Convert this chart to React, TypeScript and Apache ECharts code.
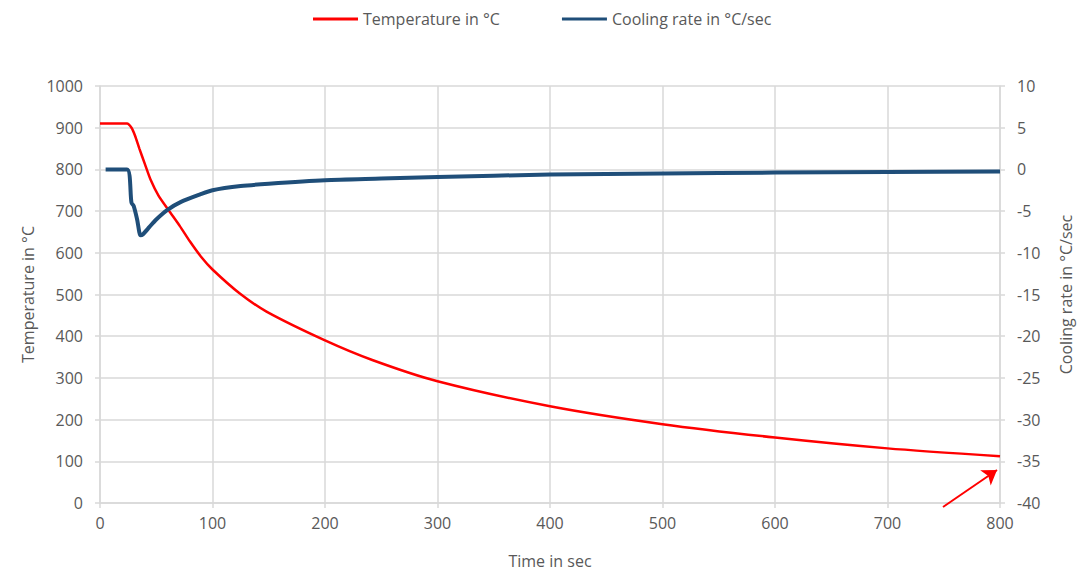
import React, { useEffect, useRef } from "react";
import * as echarts from "echarts";

const tempTimes = [0, 24, 28, 31, 35, 40, 45, 52, 61, 71, 80, 90, 100, 124, 148, 200, 242, 300, 400, 500, 600, 700, 800];
const tempValues = [910, 910, 900, 882, 850, 812, 775, 737, 702, 664, 627, 590, 560, 503, 459, 390, 343, 292, 232, 189, 157, 131, 112];

const rateTimes = [5, 24, 28, 30, 33, 36, 38, 44, 50, 60, 72, 89, 100, 125, 150, 200, 250, 300, 400, 500, 600, 700, 800];
const rateValues = [0, 0, -4.0, -4.4, -6.0, -7.9, -7.8, -6.9, -6.0, -4.85, -3.9, -3.0, -2.5, -2.0, -1.72, -1.3, -1.1, -0.9, -0.62, -0.48, -0.38, -0.3, -0.25];

const seriesNames = ["Temperature in °C", "Cooling rate in °C/sec"];
const axisNames = { x: "Time in sec", left: "Temperature in °C", right: "Cooling rate in °C/sec" };

const FONT = "'Open Sans', sans-serif";
const GRAY = "#595959";
const LINE = "#d9d9d9";

export default function App() {
  const ref = useRef<HTMLDivElement>(null);
  useEffect(() => {
    if (!ref.current) return;
    const chart = echarts.init(ref.current, null, { renderer: "svg" });
    const textStyle = { color: GRAY, fontSize: 16, fontFamily: FONT };
    const plain = (v: number) => String(v);
    chart.setOption({
      animation: false,
      backgroundColor: "#ffffff",
      textStyle: { fontFamily: FONT },
      legend: {
        left: 308,
        top: 6,
        itemWidth: 45,
        itemHeight: 3,
        itemGap: 62,
        icon: "rect",
        textStyle: { color: GRAY, fontSize: 16, fontFamily: FONT },
        data: seriesNames,
      },
      grid: { left: 100, right: 77, top: 86, bottom: 70, outerBoundsMode: "none" },
      xAxis: {
        type: "value",
        min: 0,
        max: 800,
        interval: 100,
        name: axisNames.x,
        nameLocation: "middle",
        nameGap: 50,
        nameTextStyle: textStyle,
        axisLine: { show: true, lineStyle: { color: LINE, width: 1.5 } },
        axisTick: { show: true, length: 5, lineStyle: { color: LINE, width: 1.5 } },
        axisLabel: { ...textStyle, margin: 12, formatter: plain },
        splitLine: { show: true, lineStyle: { color: LINE, width: 1.5 } },
      },
      yAxis: [
        {
          type: "value",
          min: 0,
          max: 1000,
          interval: 100,
          name: axisNames.left,
          nameLocation: "middle",
          nameGap: 64,
          nameTextStyle: textStyle,
          axisLine: { show: true, lineStyle: { color: LINE, width: 1.5 } },
          axisTick: { show: true, length: 5, lineStyle: { color: LINE, width: 1.5 } },
          axisLabel: { ...textStyle, margin: 17, formatter: plain },
          splitLine: { show: true, lineStyle: { color: LINE, width: 1.5 } },
        },
        {
          type: "value",
          min: -40,
          max: 10,
          interval: 5,
          name: axisNames.right,
          nameLocation: "middle",
          nameGap: 58,
          nameTextStyle: textStyle,
          axisLine: { show: true, lineStyle: { color: LINE, width: 1.5 } },
          axisTick: { show: true, length: 5, lineStyle: { color: LINE, width: 1.5 } },
          axisLabel: { ...textStyle, margin: 17, formatter: plain },
          splitLine: { show: false },
        },
      ],
      series: [
        {
          name: seriesNames[0],
          type: "line",
          yAxisIndex: 0,
          showSymbol: false,
          symbol: "none",
          smooth: 0.25,
          color: "#ff0000",
          lineStyle: { color: "#ff0000", width: 2.5 },
          data: tempTimes.map((t, i) => [t, tempValues[i]]),
          markLine: {
            silent: true,
            symbol: ["none", "arrow"],
            symbolSize: 14,
            label: { show: false },
            lineStyle: { color: "#ff0000", width: 2, type: "solid" },
            data: [[{ x: 943, y: 507 }, { x: 997, y: 470 }]],
          },
        },
        {
          name: seriesNames[1],
          type: "line",
          yAxisIndex: 1,
          showSymbol: false,
          symbol: "none",
          smooth: 0.25,
          color: "#1f4e79",
          lineStyle: { color: "#1f4e79", width: 4 },
          data: rateTimes.map((t, i) => [t, rateValues[i]]),
        },
      ],
    });
    return () => chart.dispose();
  }, []);
  return (
    <div
      ref={ref}
      style={{ position: "fixed", left: 0, top: 0, width: 1077, height: 573 }}
    />
  );
}
